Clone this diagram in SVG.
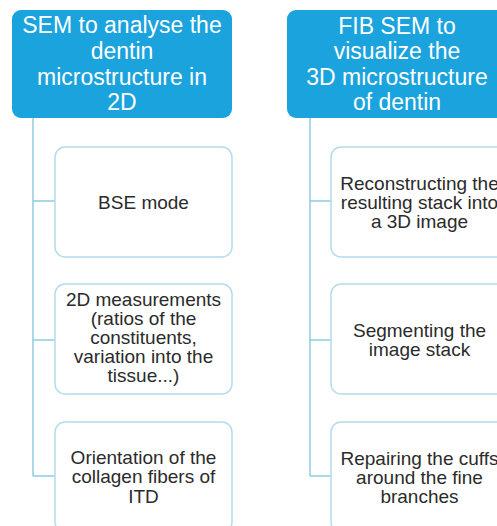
<svg xmlns="http://www.w3.org/2000/svg" width="497" height="526" viewBox="0 0 497 526">
<style>
.hdr{fill:#1ba3dd;}
.hdr-t{fill:#ffffff;font-family:"Liberation Sans",Arial,sans-serif;font-size:23px;text-anchor:middle;}
.box{fill:#ffffff;stroke:#b4dcec;stroke-width:1.5;}
.box-t{fill:#2b2b2b;font-family:"Liberation Sans",Arial,sans-serif;font-size:19px;text-anchor:middle;}
.conn{fill:none;stroke:#8ecbe2;stroke-width:1.5;}
</style>
<rect width="497" height="526" fill="#ffffff"/>
<g id="connectors">
<path class="conn" d="M33 118 V476 M33 201 H55 M33 340 H55 M33 476 H55"/>
<path class="conn" d="M310 118 V476 M310 201 H331 M310 340 H331 M310 476 H331"/>
</g>
<g id="header-left">
<rect class="hdr" x="12" y="10" width="220" height="108" rx="9"/>
<text class="hdr-t"><tspan x="122" y="33">SEM to analyse the</tspan><tspan x="122" y="59">dentin</tspan><tspan x="122" y="85">microstructure in</tspan><tspan x="122" y="110">2D</tspan></text>
</g>
<g id="header-right">
<rect class="hdr" x="287" y="10" width="220" height="108" rx="9"/>
<text class="hdr-t"><tspan x="397" y="34">FIB SEM to</tspan><tspan x="397" y="59">visualize the</tspan><tspan x="397" y="85">3D microstructure</tspan><tspan x="397" y="110">of dentin</tspan></text>
</g>
<g id="bse">
<rect class="box" x="55" y="147" width="177" height="110" rx="10"/>
<text class="box-t" x="143.5" y="209">BSE mode</text>
</g>
<g id="measurements">
<rect class="box" x="55" y="284" width="177" height="110" rx="10"/>
<text class="box-t"><tspan x="143.5" y="306">2D measurements</tspan><tspan x="143.5" y="325">(ratios of the</tspan><tspan x="143.5" y="344">constituents,</tspan><tspan x="143.5" y="363">variation into the</tspan><tspan x="143.5" y="382">tissue...)</tspan></text>
</g>
<g id="orientation">
<rect class="box" x="55" y="422" width="177" height="110" rx="10"/>
<text class="box-t"><tspan x="143.5" y="464">Orientation of the</tspan><tspan x="143.5" y="483">collagen fibers of</tspan><tspan x="143.5" y="503">ITD</tspan></text>
</g>
<g id="reconstructing">
<rect class="box" x="331" y="147" width="177" height="110" rx="10"/>
<text class="box-t"><tspan x="419.5" y="190">Reconstructing the</tspan><tspan x="419.5" y="209">resulting stack into</tspan><tspan x="419.5" y="228">a 3D image</tspan></text>
</g>
<g id="segmenting">
<rect class="box" x="331" y="284" width="177" height="110" rx="10"/>
<text class="box-t"><tspan x="419.5" y="337">Segmenting the</tspan><tspan x="419.5" y="356">image stack</tspan></text>
</g>
<g id="repairing">
<rect class="box" x="331" y="422" width="177" height="110" rx="10"/>
<text class="box-t"><tspan x="419.5" y="465">Repairing the cuffs</tspan><tspan x="419.5" y="484">around the fine</tspan><tspan x="419.5" y="503">branches</tspan></text>
</g>
</svg>
